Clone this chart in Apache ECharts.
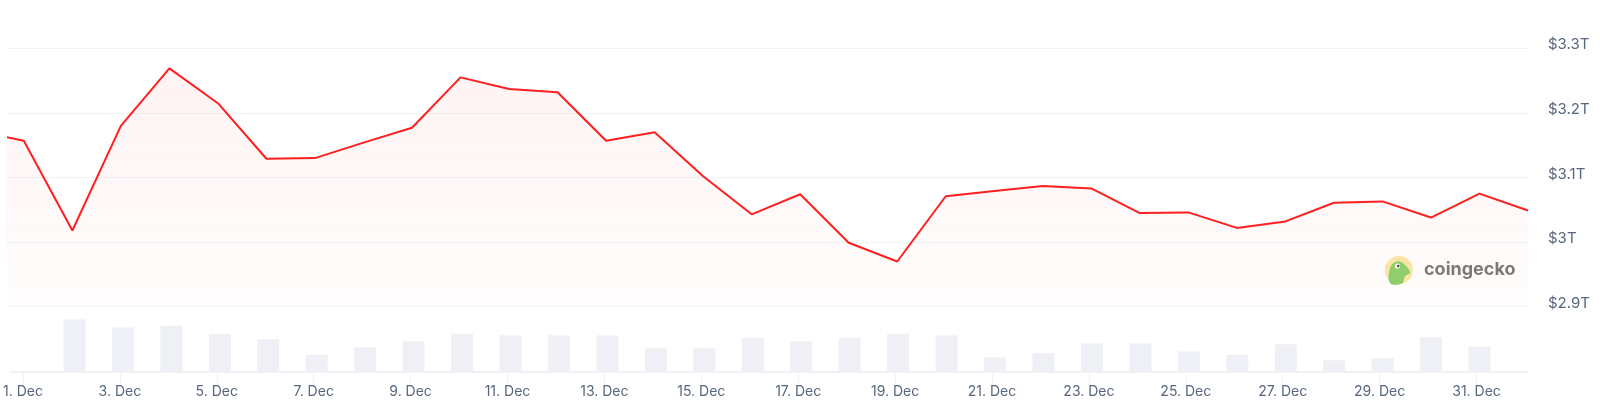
<!DOCTYPE html>
<html>
<head>
<meta charset="utf-8">
<script src="https://cdn.jsdelivr.net/npm/echarts@6/dist/echarts.min.js"></script>
<style>
  html, body { margin: 0; padding: 0; background: #fff; }
  #chart { width: 1600px; height: 410px; }
</style>
</head>
<body>
<div id="chart"></div>
<script>
// data points (one per day, snapshot ~01:30 UTC)
const days = [
  '2024-11-30', '2024-12-01', '2024-12-02', '2024-12-03', '2024-12-04', '2024-12-05',
  '2024-12-06', '2024-12-07', '2024-12-08', '2024-12-09', '2024-12-10', '2024-12-11',
  '2024-12-12', '2024-12-13', '2024-12-14', '2024-12-15', '2024-12-16', '2024-12-17',
  '2024-12-18', '2024-12-19', '2024-12-20', '2024-12-21', '2024-12-22', '2024-12-23',
  '2024-12-24', '2024-12-25', '2024-12-26', '2024-12-27', '2024-12-28', '2024-12-29',
  '2024-12-30', '2024-12-31', '2025-01-01'
]

// total market cap, billions USD
const marketCap = [
  3172, 3157, 3018, 3180, 3269, 3215,
  3129, 3130, 3154, 3177, 3255, 3237,
  3232, 3157, 3170, 3102, 3043, 3074,
  2999, 2970, 3071, 3079, 3087, 3083,
  3045, 3046, 3022, 3032, 3061, 3063,
  3038, 3075, 3049
]

// 24h volume, billions USD (no bar on the first and last point)
const volume = [
  null, null, 208, 176, 182, 150,
  128, 66, 96, 120, 150, 144,
  144, 144, 92, 92, 134, 120,
  134, 150, 144, 56, 72, 112,
  112, 80, 66, 108, 44, 52,
  136, 98, null
]

// x axis tick labels
const tickDays = [
  '2024-12-01', '2024-12-03', '2024-12-05', '2024-12-07', '2024-12-09', '2024-12-11',
  '2024-12-13', '2024-12-15', '2024-12-17', '2024-12-19', '2024-12-21', '2024-12-23',
  '2024-12-25', '2024-12-27', '2024-12-29', '2024-12-31'
]

// y axis ticks (billions)
const capTicks = [2900, 3000, 3100, 3200, 3300]

const xMin = Date.parse('2024-11-30T17:40:00Z')
const xMax = Date.parse('2025-01-01T01:30:00Z')

const ts = (d) => Date.parse(d + 'T01:30:00Z')
const capData = days.map((d, i) => [ts(d), marketCap[i]])
const volData = days.map((d, i) => [ts(d), volume[i]])
const tickValues = tickDays.map((d) => Date.parse(d + 'T00:00:00Z'))

const labelColor = '#58667e'
const lineGray = '#eff2f5'
const font = 'Inter, "Noto Sans", sans-serif'

let myChart = echarts.init(document.getElementById('chart'))

myChart.setOption({
  animation: false,
  grid: [
    { left: 8, right: 72, top: 48.3, height: 258.4 },
    { left: 8, right: 72, top: 306.7, height: 64.6 }
  ],
  xAxis: [
    {
      type: 'value',
      gridIndex: 0,
      min: xMin,
      max: xMax,
      axisLine: { show: false },
      axisTick: { show: false },
      axisLabel: { show: false },
      splitLine: { show: false }
    },
    {
      type: 'value',
      gridIndex: 1,
      min: xMin,
      max: xMax,
      axisLine: { show: true, lineStyle: { color: lineGray, width: 2 } },
      axisTick: {
        show: true,
        customValues: tickValues,
        length: 12,
        lineStyle: { color: lineGray, width: 1 }
      },
      axisLabel: {
        customValues: tickValues,
        color: labelColor,
        fontFamily: font,
        fontSize: 14,
        margin: 13,
        hideOverlap: false,
        formatter: (v, i) => {
          const t = new Date(v).getUTCDate() + '. Dec'
          return i === 0 ? '{first|' + t + '}' : t
        },
        rich: {
          first: {
            color: labelColor,
            fontFamily: font,
            fontSize: 14,
            padding: [0, 0, 0, 18]
          }
        }
      },
      splitLine: { show: false }
    }
  ],
  yAxis: [
    {
      type: 'value',
      gridIndex: 0,
      position: 'right',
      min: capTicks[0],
      max: capTicks[capTicks.length - 1],
      interval: 100,
      axisLine: { show: false },
      axisTick: { show: false },
      splitLine: { lineStyle: { color: lineGray, width: 1 } },
      axisLabel: {
        color: labelColor,
        fontFamily: font,
        fontSize: 15,
        margin: 20,
        align: 'left',
        verticalAlign: 'bottom',
        lineHeight: 7,
        formatter: (v) => '$' + (v / 1000) + 'T'
      }
    },
    {
      type: 'value',
      gridIndex: 1,
      min: 0,
      max: 258.4,
      show: false,
      splitLine: { show: false }
    }
  ],
  series: [
    {
      name: 'Market Cap',
      type: 'line',
      xAxisIndex: 0,
      yAxisIndex: 0,
      data: capData,
      showSymbol: false,
      lineStyle: { color: '#ff1f1f', width: 2 },
      areaStyle: {
        color: {
          type: 'linear',
          x: 0, y: 0, x2: 0, y2: 1,
          colorStops: [
            { offset: 0, color: 'rgba(255, 40, 40, 0.08)' },
            { offset: 1, color: 'rgba(255, 40, 40, 0.015)' }
          ]
        }
      }
    },
    {
      name: 'Volume',
      type: 'bar',
      xAxisIndex: 1,
      yAxisIndex: 1,
      data: volData,
      barWidth: 22,
      itemStyle: { color: '#eff0f5' }
    }
  ],
  // coingecko watermark
  graphic: [
    {
      type: 'circle',
      shape: { cx: 1399, cy: 270, r: 14 },
      style: { fill: '#f7e9a6' }
    },
    {
      type: 'polygon',
      shape: {
        smooth: 0.4,
        points: [
          [1390, 283], [1390.5, 267], [1397, 261.5], [1404, 264],
          [1410, 272.5], [1405, 276.5], [1402, 283.5]
        ]
      },
      style: { fill: '#8dd16c' }
    },
    {
      type: 'circle',
      shape: { cx: 1397.5, cy: 266, r: 2.6 },
      style: { fill: '#ffffff' }
    },
    {
      type: 'circle',
      shape: { cx: 1398.2, cy: 266, r: 1.3 },
      style: { fill: '#4a4a4a' }
    },
    {
      type: 'text',
      x: 1424,
      y: 270,
      style: {
        text: 'coingecko',
        fill: '#7a7a7a',
        font: 'bold 18px Inter, "Noto Sans", sans-serif',
        verticalAlign: 'middle'
      }
    }
  ]
})
</script>
</body>
</html>
